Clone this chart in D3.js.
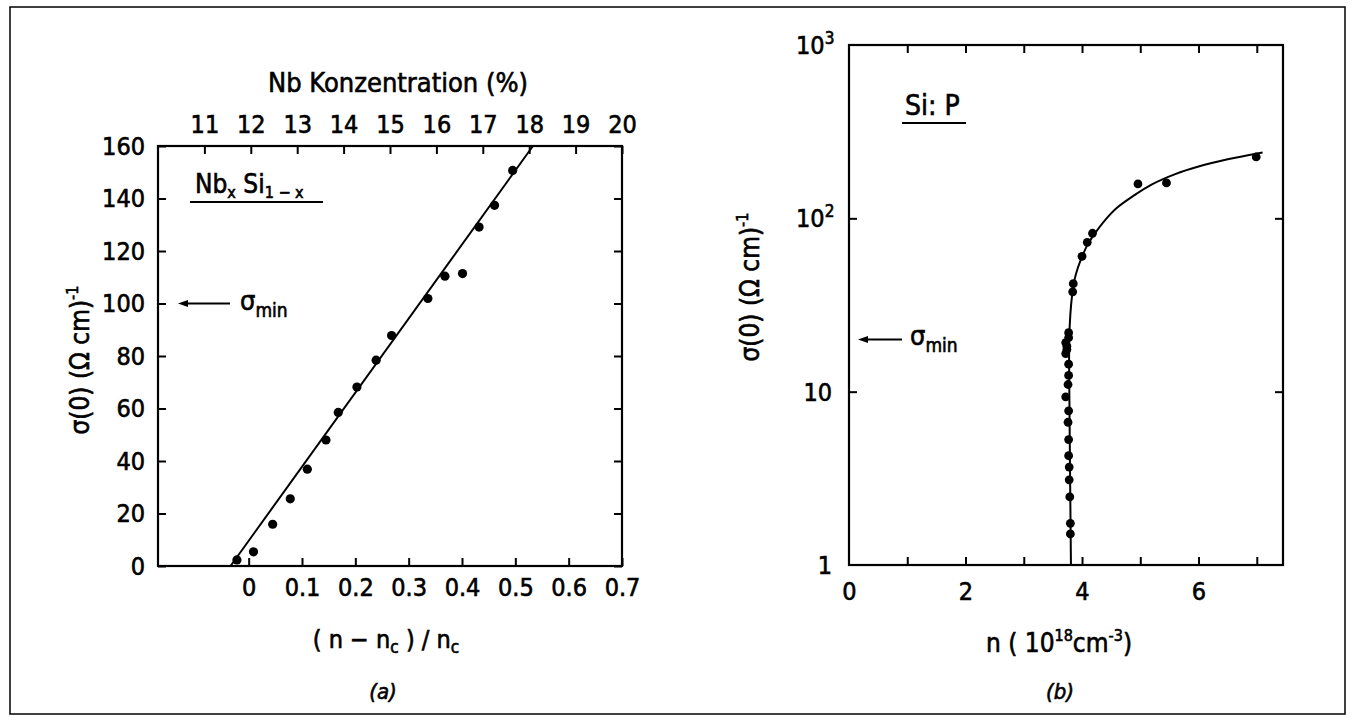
<!DOCTYPE html>
<html>
<head>
<meta charset="utf-8">
<script src="https://cdn.jsdelivr.net/npm/d3@7"></script>
<style>
  body { margin: 0; background: #fff; }
  svg text { font-family: "DejaVu Sans", "Liberation Sans", sans-serif; font-stretch: condensed; fill: #000; stroke: #000; stroke-width: 0.6px; }
  .tick line { stroke: #000; stroke-width: 2; }
  .tick text { font-size: 25px; }
  .domain { display: none; }
</style>
</head>
<body>
<script>
// ---- panel (a): Nb_x Si_1-x ----
var relTicks = [0, 0.1, 0.2, 0.3, 0.4, 0.5, 0.6, 0.7];
var concTicks = [11, 12, 13, 14, 15, 16, 17, 18, 19, 20];
var sigmaTicks = [0, 20, 40, 60, 80, 100, 120, 140, 160];

var nbRel   = [-0.022, 0.009, 0.045, 0.078, 0.110, 0.145, 0.168, 0.203, 0.239, 0.268, 0.336, 0.368, 0.401, 0.432, 0.461, 0.495];
var nbSigma = [2.3, 5.4, 15.9, 25.6, 36.9, 48.0, 58.5, 68.2, 78.4, 87.8, 101.9, 110.4, 111.4, 129.1, 137.4, 150.7];

var nbFitRel   = [-0.034, 0.533];
var nbFitSigma = [0, 160];
var nbSigmaMin = 100;

// ---- panel (b): Si:P ----
var nTicks = [0, 2, 4, 6];
var nMinorTicks = [1, 2, 3, 4, 5, 6, 7];
var decadeTicks = [1, 10, 100, 1000];

var siN     = [3.80, 3.80, 3.79, 3.78, 3.78, 3.77, 3.77, 3.76, 3.77, 3.72, 3.76, 3.77, 3.77, 3.72, 3.74, 3.74, 3.72, 3.77, 3.77, 3.84, 3.85, 4.00, 4.09, 4.18, 4.96, 5.45, 6.99];
var siSigma = [1.51, 1.74, 2.47, 3.10, 3.67, 4.27, 5.29, 6.66, 7.75, 9.34, 11.0, 12.4, 14.4, 16.6, 17.5, 18.3, 19.2, 20.5, 21.9, 37.7, 42, 60.4, 72.7, 82, 158, 160, 226];

var siCurveN     = [3.81, 3.79, 3.78, 3.78, 3.80, 3.83, 3.87, 3.93, 4.00, 4.10, 4.20, 4.40, 4.60, 4.90, 5.20, 5.60, 6.00, 6.50, 7.10];
var siCurveSigma = [1, 5, 12, 20, 28, 36, 44, 52, 60, 71, 80, 98, 115, 136, 157, 180, 199, 219, 240];
var siSigmaMin = 20;

var svg = d3.select("body").append("svg")
    .attr("width", 1357)
    .attr("height", 717);

// outer figure border
svg.append("rect")
    .attr("x", 10).attr("y", 7)
    .attr("width", 1335).attr("height", 707)
    .attr("fill", "none")
    .attr("stroke", "#000")
    .attr("stroke-width", 1.5);

// ================= panel (a) =================
var pa = {x: 158, y: 146, w: 464, h: 420};

var xRel = d3.scaleLinear().domain([-0.17, 0.70]).range([0, pa.w]);
var xConc = d3.scaleLinear().domain([10, 20]).range([0, pa.w]);
var yLin = d3.scaleLinear().domain([0, 160]).range([pa.h, 0]);

var ga = svg.append("g")
    .attr("transform", "translate(" + pa.x + "," + pa.y + ")");

ga.append("g")
    .attr("transform", "translate(0," + pa.h + ")")
    .call(d3.axisBottom(xRel).tickValues(relTicks).tickSizeInner(-8).tickSizeOuter(0).tickPadding(12)
      .tickFormat(function(d) { return d === 0 ? "0" : d.toFixed(1); }));

ga.append("g")
    .call(d3.axisTop(xConc).tickValues(concTicks).tickSizeInner(-8).tickSizeOuter(0).tickPadding(13));

ga.append("g")
    .call(d3.axisLeft(yLin).tickValues(sigmaTicks).tickSizeInner(-8).tickSizeOuter(0).tickPadding(13));

ga.append("g")
    .attr("transform", "translate(" + pa.w + ",0)")
    .call(d3.axisRight(yLin).tickValues(sigmaTicks).tickSizeInner(-8).tickSizeOuter(0).tickFormat(""));

ga.append("rect")
    .attr("width", pa.w).attr("height", pa.h)
    .attr("fill", "none").attr("stroke", "#000").attr("stroke-width", 2.2);

ga.append("path")
    .datum(d3.zip(nbFitRel, nbFitSigma))
    .attr("fill", "none")
    .attr("stroke", "#000")
    .attr("stroke-width", 2)
    .attr("d", d3.line()
      .x(function(d) { return xRel(d[0]); })
      .y(function(d) { return yLin(d[1]); }));

ga.selectAll(".dot")
    .data(d3.zip(nbRel, nbSigma))
  .enter().append("circle")
    .attr("class", "dot")
    .attr("r", 4.6)
    .attr("cx", function(d) { return xRel(d[0]); })
    .attr("cy", function(d) { return yLin(d[1]); })
    .style("fill", "#000");

// labels
ga.append("text")
    .attr("x", pa.w / 2 + 8)
    .attr("y", -54)
    .style("text-anchor", "middle")
    .style("font-size", "27px")
    .text("Nb Konzentration (%)");

var xla = ga.append("text")
    .attr("x", 228)
    .attr("y", 502)
    .style("text-anchor", "middle")
    .style("font-size", "25px");
xla.append("tspan").text("( n \u2212 n");
xla.append("tspan").attr("dy", 5).style("font-size", "17px").text("c");
xla.append("tspan").attr("dy", -5).text(" ) / n");
xla.append("tspan").attr("dy", 5).style("font-size", "17px").text("c");

ga.append("text")
    .attr("x", 225)
    .attr("y", 553)
    .style("text-anchor", "middle")
    .style("font-size", "22px")
    .style("font-style", "italic")
    .text("(a)");

var yla = ga.append("text")
    .attr("transform", "translate(-69," + (pa.h / 2 + 4) + ") rotate(-90)")
    .style("text-anchor", "middle")
    .style("font-size", "26px");
yla.append("tspan").text("\u03c3(0) (\u03a9 cm)");
yla.append("tspan").attr("dy", -11).style("font-size", "16px").text("-1");

var nbl = ga.append("text")
    .attr("x", 37)
    .attr("y", 47)
    .style("font-size", "26px");
nbl.append("tspan").text("Nb");
nbl.append("tspan").attr("dy", 5).style("font-size", "16px").text("x");
nbl.append("tspan").attr("dy", -5).text(" Si");
nbl.append("tspan").attr("dy", 5).style("font-size", "16px").text("1 \u2212 x");
ga.append("line")
    .attr("x1", 32).attr("x2", 165)
    .attr("y1", 56).attr("y2", 56)
    .attr("stroke", "#000").attr("stroke-width", 2);

// sigma_min arrow (a)
ga.append("line")
    .attr("x1", 28).attr("x2", 72)
    .attr("y1", yLin(nbSigmaMin)).attr("y2", yLin(nbSigmaMin))
    .attr("stroke", "#000").attr("stroke-width", 2);
ga.append("path")
    .attr("d", "M20," + yLin(nbSigmaMin) + "l10,-3.5v7z")
    .attr("fill", "#000");
var sma = ga.append("text")
    .attr("x", 82)
    .attr("y", yLin(nbSigmaMin) + 6)
    .style("font-size", "27px");
sma.append("tspan").text("\u03c3");
sma.append("tspan").attr("dy", 7).style("font-size", "19px").text("min");

// ================= panel (b) =================
var pb = {x: 849, y: 45, w: 434, h: 520};

var xN = d3.scaleLinear().domain([0, 7.45]).range([0, pb.w]);
var yLog = d3.scaleLog().domain([1, 1000]).range([pb.h, 0]);

var gb = svg.append("g")
    .attr("transform", "translate(" + pb.x + "," + pb.y + ")");

gb.append("g")
    .attr("transform", "translate(0," + pb.h + ")")
    .call(d3.axisBottom(xN).tickValues(nMinorTicks).tickSizeInner(-8).tickSizeOuter(0).tickFormat(""));

gb.append("g")
    .attr("transform", "translate(0," + pb.h + ")")
    .call(d3.axisBottom(xN).tickValues(nTicks).tickSize(0).tickPadding(17)
      .tickFormat(d3.format("d")));

gb.append("g")
    .call(d3.axisTop(xN).tickValues(nMinorTicks).tickSizeInner(-8).tickSizeOuter(0).tickFormat(""));

gb.append("g")
    .call(d3.axisLeft(yLog).tickValues([10, 100]).tickSizeInner(-8).tickSizeOuter(0).tickFormat(""));

gb.append("g")
    .attr("transform", "translate(" + pb.w + ",0)")
    .call(d3.axisRight(yLog).tickValues([10, 100]).tickSizeInner(-8).tickSizeOuter(0).tickFormat(""));

// log tick labels with superscripts
var dec = gb.selectAll(".declabel")
    .data(decadeTicks)
  .enter().append("text")
    .attr("class", "declabel")
    .attr("x", function(d) { return d >= 100 ? -53 : -17; })
    .attr("y", function(d) { return yLog(d); })
    .attr("dy", "0.36em")
    .style("text-anchor", function(d) { return d >= 100 ? "start" : "end"; })
    .style("font-size", "25px");
dec.append("tspan").text(function(d) { return d >= 100 ? "10" : String(d); });
dec.filter(function(d) { return d >= 100; })
  .append("tspan")
    .attr("dy", -10)
    .style("font-size", "17px")
    .text(function(d) { return String(Math.round(Math.log10(d))); });

gb.append("rect")
    .attr("width", pb.w).attr("height", pb.h)
    .attr("fill", "none").attr("stroke", "#000").attr("stroke-width", 2.2);

gb.append("path")
    .datum(d3.zip(siCurveN, siCurveSigma))
    .attr("fill", "none")
    .attr("stroke", "#000")
    .attr("stroke-width", 2)
    .attr("d", d3.line()
      .curve(d3.curveCatmullRom)
      .x(function(d) { return xN(d[0]); })
      .y(function(d) { return yLog(d[1]); }));

gb.selectAll(".dot")
    .data(d3.zip(siN, siSigma))
  .enter().append("circle")
    .attr("class", "dot")
    .attr("r", 4.4)
    .attr("cx", function(d) { return xN(d[0]); })
    .attr("cy", function(d) { return yLog(d[1]); })
    .style("fill", "#000");

var xlb = gb.append("text")
    .attr("x", 210)
    .attr("y", 607)
    .style("text-anchor", "middle")
    .style("font-size", "26px");
xlb.append("tspan").text("n  ( 10");
xlb.append("tspan").attr("dy", -11).style("font-size", "16px").text("18");
xlb.append("tspan").attr("dy", 11).text("cm");
xlb.append("tspan").attr("dy", -11).style("font-size", "16px").text("-3");
xlb.append("tspan").attr("dy", 11).text(")");

gb.append("text")
    .attr("x", 211)
    .attr("y", 654)
    .style("text-anchor", "middle")
    .style("font-size", "22px")
    .style("font-style", "italic")
    .text("(b)");

var ylb = gb.append("text")
    .attr("transform", "translate(-90," + (238 + 4) + ") rotate(-90)")
    .style("text-anchor", "middle")
    .style("font-size", "26px");
ylb.append("tspan").text("\u03c3(0) (\u03a9 cm)");
ylb.append("tspan").attr("dy", -11).style("font-size", "16px").text("-1");

gb.append("text")
    .attr("x", 56)
    .attr("y", 70)
    .style("font-size", "28px")
    .text("Si: P");
gb.append("line")
    .attr("x1", 53).attr("x2", 117)
    .attr("y1", 78).attr("y2", 78)
    .attr("stroke", "#000").attr("stroke-width", 2);

// sigma_min arrow (b)
gb.append("line")
    .attr("x1", 17).attr("x2", 53)
    .attr("y1", yLog(siSigmaMin)).attr("y2", yLog(siSigmaMin))
    .attr("stroke", "#000").attr("stroke-width", 2);
gb.append("path")
    .attr("d", "M9," + yLog(siSigmaMin) + "l10,-3.5v7z")
    .attr("fill", "#000");
var smb = gb.append("text")
    .attr("x", 61)
    .attr("y", yLog(siSigmaMin) + 6)
    .style("font-size", "27px");
smb.append("tspan").text("\u03c3");
smb.append("tspan").attr("dy", 7).style("font-size", "19px").text("min");
</script>
</body>
</html>
